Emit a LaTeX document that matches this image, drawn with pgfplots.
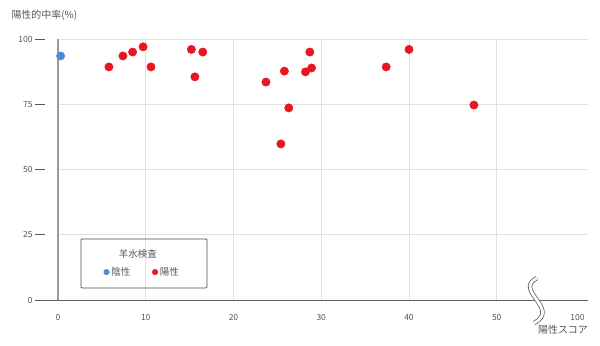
\documentclass[border=0pt]{standalone}
\usepackage{pgfplots}
\pgfplotsset{compat=1.18}
\usepackage{fontspec}
\setmainfont{Noto Sans CJK JP}
\definecolor{ptred}{RGB}{232,22,32}
\definecolor{ptblue}{RGB}{78,138,218}
\definecolor{gridc}{RGB}{224,224,228}
\definecolor{txtc}{RGB}{85,85,85}
\begin{document}
\begin{tikzpicture}
\begin{axis}[
  name=ax,
  scale only axis,
  width=530bp, height=261bp,
  xmin=0, xmax=60.4, ymin=0, ymax=100,
  clip=false,
  axis line style={draw=none},
  xtick={10,20,30,40,50},
  extra x ticks={0,59.2},
  extra x tick labels={0,100},
  extra x tick style={grid=none},
  ytick={0,25,50,75,100},
  xmajorgrids, ymajorgrids,
  grid style={gridc, line width=0.8bp},
  xtick style={draw=none},
  ytick style={draw=txtc, line width=0.9bp, xshift=-13bp},
  major tick length=10bp,
  tick align=outside,
  xtick pos=bottom, ytick pos=left,
  /pgf/number format/assume math mode=true,
  tick label style={font=\fontsize{8.5}{10}\selectfont, text=txtc},
  yticklabel style={xshift=-12bp},
  xticklabel style={yshift=-1bp},
  legend style={at={(axis cs:9.6,10.7)}, anchor=center, draw=none, fill=none,
    font=\fontsize{9.5}{11}\selectfont, text=txtc, legend columns=2,
    /tikz/every even column/.append style={column sep=20bp},
    legend cell align=left, inner sep=1bp},
  legend image post style={mark size=2.8bp},
]
\addplot[only marks, mark=*, mark size=4.2bp, color=ptblue] coordinates {(0.3,93.5)};
\addlegendentry{陰性}
\addplot[only marks, mark=*, mark size=4.2bp, color=ptred] coordinates {
(5.8,89.3) (7.4,93.5) (8.5,95.0) (9.7,97.0) (10.6,89.3)
(15.2,96.0) (15.6,85.5) (16.5,95.0)
(23.7,83.5) (25.8,87.7) (26.3,73.6) (25.4,59.8)
(28.7,95.0) (28.2,87.4) (28.9,88.9)
(37.4,89.3) (40.0,96.0) (47.4,74.7)};
\addlegendentry{陽性}
\draw[gray!75!black, line width=0.8bp] (axis cs:-2.6,0) -- (axis cs:60.4,0);
\draw[gray!80, line width=1.4bp] (axis cs:0,0) -- (axis cs:0,100);
\draw[gray!60!black, line width=0.8bp, rounded corners=1bp] (axis cs:2.62,23.4) rectangle (axis cs:16.97,4.6);
\node[font=\fontsize{9.5}{11}\selectfont, text=txtc] at (axis cs:9.1,17.6) {羊水検査};
\end{axis}
\draw[gray!75!black, line width=0.8bp, double=white, double distance=2.8bp]
  ([shift={(479bp,22bp)}]ax.south west) .. controls ([shift={(455bp,10bp)}]ax.south west) and ([shift={(503bp,-9bp)}]ax.south west) .. ([shift={(476bp,-23bp)}]ax.south west);
\node[font=\fontsize{10}{12}\selectfont, text=txtc] at ([shift={(505bp,-30bp)}]ax.south west) {陽性スコア};
\node[font=\fontsize{10}{12}\selectfont, text=txtc, anchor=west] at ([shift={(-50bp,285bp)}]ax.south west) {陽性的中率(\%)};
\pgfresetboundingbox
\path[use as bounding box] ([shift={(-58bp,-46bp)}]ax.south west) rectangle ([shift={(542bp,300bp)}]ax.south west);
\end{tikzpicture}
\end{document}
